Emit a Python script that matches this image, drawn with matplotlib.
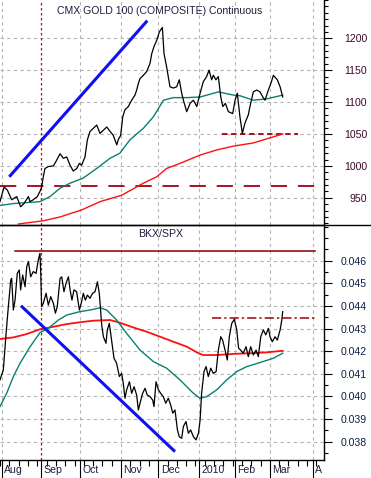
import numpy as np
import matplotlib
matplotlib.use("Agg")
import matplotlib.pyplot as plt
from matplotlib.ticker import MultipleLocator, FixedLocator, FuncFormatter
from matplotlib.lines import Line2D

plt.rcParams['font.family'] = ['Liberation Sans', 'DejaVu Sans']

# ---------------- data (x = trading-day index from 3 Aug 2009) ----------------
month_starts = [0, 21, 42, 64, 84, 106, 125, 144, 167]
month_labels = ["Aug", "Sep", "Oct", "Nov", "Dec", "2010", "Feb", "Mar", "A"]

gold_x = [-1.1, 1.1, 2.9, 5.2, 7.9, 10.0, 11.8, 14.2, 15.0, 16.8, 19.0, 20.4, 21.3, 22.2,
          23.1, 24.9, 27.6, 29.0, 31.2, 33.0, 34.8, 36.6, 38.3, 40.2, 41.6, 42.8, 44.6,
          45.9, 47.3, 49.1, 50.9, 52.7, 54.5, 56.3, 58.1, 59.8, 61.7, 62.5, 63.8, 64.9,
          66.1, 67.9, 69.7, 71.5, 72.4, 73.3, 74.2, 76.0, 77.8, 79.6, 80.5, 81.7, 83.2,
          84.6, 86.2, 87.1, 88.5, 90.3, 92.1, 93.9, 95.3, 96.6, 97.5, 99.3, 101.1, 102.9,
          104.7, 106.5, 108.2, 110.0, 111.3, 112.7, 113.6, 115.0, 116.3, 117.6, 118.7,
          120.1, 121.7, 124.0, 125.3, 126.5, 127.9, 129.2, 130.6, 132.4, 133.3, 135.1,
          136.9, 138.7, 140.2, 141.4, 143.2, 144.5, 145.9, 148.0, 149.5, 150.9]
gold = [944, 967, 962, 947, 952, 936, 941, 952, 944, 947, 952, 960, 967, 983,
        996, 999, 1000, 1007, 1019, 1012, 1014, 1001, 992, 996, 1004, 1001, 1014,
        1041, 1054, 1059, 1064, 1051, 1056, 1061, 1054, 1048, 1033, 1041, 1048, 1077,
        1088, 1093, 1103, 1111, 1119, 1129, 1137, 1142, 1148, 1161, 1176, 1187, 1197,
        1210, 1217, 1176, 1155, 1124, 1122, 1124, 1135, 1114, 1103, 1085, 1098, 1103,
        1093, 1114, 1132, 1140, 1150, 1135, 1142, 1135, 1140, 1108, 1093,
        1098, 1085, 1082, 1103, 1114, 1077, 1051, 1067, 1080, 1093, 1116,
        1119, 1116, 1108, 1103, 1119, 1129, 1142, 1135, 1124, 1108]

gold_ma50_x = [-1.1, 6.1, 20.4, 25.8, 31.2, 36.6, 43.7, 50.9, 58.1, 63.4, 68.8, 76.0,
               81.4, 86.8, 92.1, 99.3, 106.5, 116.3, 124.4, 127.9, 135.1, 142.3, 150.9]
gold_ma50 = [938, 941, 944, 952, 965, 973, 981, 996, 1012, 1020, 1041, 1059,
             1077, 1103, 1107, 1107, 1108, 1116, 1111, 1110, 1103, 1105, 1111]

gold_ma200_x = [8.8, 22.2, 31.2, 42.8, 52.7, 64.3, 76.0, 83.2, 88.5, 95.7, 106.5,
                115.4, 124.4, 135.1, 150.9]
gold_ma200 = [909, 914, 920, 931, 944, 954, 973, 983, 996, 1004, 1017,
              1025, 1031, 1036, 1050]

bkx_x = [-1.1, 0.7, 2.2, 3.4, 4.7, 5.2, 6.1, 7.0, 8.2, 9.3, 10.0, 11.1, 12.4, 13.3, 14.2,
         15.4, 16.8, 18.3, 19.5, 20.4, 20.8, 21.3, 22.2, 23.7, 24.9, 26.2, 27.6, 28.7,
         29.7, 31.2, 32.1, 33.3, 34.4, 35.7, 36.6, 37.6, 38.7, 40.1, 41.6, 42.8, 43.7,
         44.8, 45.9, 47.3, 48.7, 50.0, 51.3, 52.3, 53.6, 54.5, 55.9, 56.6, 57.7, 58.9,
         60.2, 61.6, 63.1, 64.3, 65.2, 66.1, 67.0, 68.5, 69.7, 71.0, 72.4, 73.3, 74.2,
         75.6, 76.9, 78.1, 79.6, 81.0, 81.7, 82.8, 84.1, 85.3, 86.7, 88.0, 89.4, 90.7,
         91.8, 93.0, 94.3, 95.3, 96.6, 97.5, 98.9, 100.2, 101.4, 102.9, 104.3, 105.6,
         106.5, 107.3, 108.6, 109.7, 110.9, 112.2, 113.6, 115.1, 116.3, 117.6, 118.6,
         119.9, 121.1, 122.2, 123.5, 124.9, 126.2, 127.2, 128.3, 129.7, 131.2, 132.4,
         133.7, 135.1, 136.6, 137.8, 139.1, 140.5, 141.8, 143.2, 144.1, 145.3, 146.8,
         148.0, 149.5, 150.4, 150.9]
bkx = [0.04073, 0.04117, 0.04279, 0.04397, 0.04515, 0.04522, 0.04382, 0.04426, 0.04544,
       0.04559, 0.04471, 0.04537, 0.04485, 0.04574, 0.04596, 0.04529, 0.04552, 0.04544,
       0.04603, 0.04633, 0.04552, 0.04397, 0.04412, 0.04456, 0.04404, 0.04441, 0.04412,
       0.04368, 0.04397, 0.04522, 0.04529, 0.04463, 0.04500, 0.04529, 0.04471, 0.04426,
       0.04471, 0.04463, 0.04382, 0.04419, 0.04456, 0.04426, 0.04448, 0.04434, 0.04456,
       0.04463, 0.04507, 0.04456, 0.04316, 0.04264, 0.04235, 0.04294, 0.04323, 0.04249,
       0.04169, 0.04147, 0.04088, 0.04102, 0.04058, 0.03992, 0.04029, 0.04065, 0.04014,
       0.04043, 0.04006, 0.03940, 0.03970, 0.04014, 0.04036, 0.04006, 0.03999, 0.03984,
       0.03955, 0.04065, 0.04029, 0.04014, 0.03999, 0.03970, 0.03992, 0.03962, 0.03926,
       0.03940, 0.03852, 0.03822, 0.03815, 0.03867, 0.03889, 0.03837, 0.03852, 0.03822,
       0.03808, 0.03837, 0.03896, 0.04014, 0.04110, 0.04132, 0.04088, 0.04125, 0.04102,
       0.04110, 0.04205, 0.04264, 0.04249, 0.04205, 0.04161, 0.04264, 0.04323, 0.04341,
       0.04294, 0.04213, 0.04205, 0.04191, 0.04220, 0.04176, 0.04220, 0.04183, 0.04205,
       0.04176, 0.04264, 0.04294, 0.04272, 0.04301, 0.04264, 0.04242, 0.04264, 0.04249,
       0.04294, 0.04338, 0.04375]

bkx_ma50_x = [-1.1, 2.5, 6.1, 9.7, 15.1, 20.4, 24.9, 30.3, 34.8, 41.9, 47.3, 52.7, 56.3,
              61.6, 67.0, 74.2, 81.4, 88.5, 95.7, 102.9, 106.5, 110.0, 115.4, 120.8,
              126.2, 131.6, 138.7, 145.9, 150.9]
bkx_ma50 = [0.03955, 0.04014, 0.04088, 0.04147, 0.04220, 0.04282, 0.04301, 0.04338,
            0.04360, 0.04375, 0.04382, 0.04392, 0.04382, 0.04338, 0.04279, 0.04205,
            0.04154, 0.04125, 0.04073, 0.04014, 0.03992, 0.03999, 0.04029, 0.04073,
            0.04110, 0.04132, 0.04150, 0.04169, 0.04191]

bkx_ma200_x = [-1.1, 6.1, 13.3, 20.4, 27.6, 34.8, 41.9, 49.1, 58.1, 63.4, 70.6, 77.8,
               85.0, 92.1, 99.3, 105.6, 108.2, 115.4, 124.4, 133.3, 142.3, 150.9]
bkx_ma200 = [0.04254, 0.04261, 0.04276, 0.04297, 0.04308, 0.04320, 0.04328, 0.04335,
             0.04338, 0.04326, 0.04305, 0.04286, 0.04264, 0.04242, 0.04220, 0.04191,
             0.04183, 0.04183, 0.04188, 0.04191, 0.04195, 0.04202]

# annotation lines (x0, x1, y0, y1)
gold_trend = ([3.9, 78.1], [983, 1227.6])
gold_support = ([-1.1, 173.1], [968, 968])
gold_level = ([118, 159], [1050, 1050])
bkx_trend = ([10.2, 93.0], [0.04401, 0.03756])
bkx_top = ([7, 168], [0.04642, 0.04642])
bkx_level = ([113, 169], [0.043455, 0.043455])
sep_marker = 21

# ---------------- figure ----------------
W, H = 371, 478
fig = plt.figure(figsize=(W / 100, H / 100), dpi=100)
fig.patch.set_facecolor("white")

FS = 7.6
xl = (-1.08, 173.1)
x_right = 324 / W
y_div = 1 - 225 / H
y_bot = 1 - 460 / H

ax1 = fig.add_axes([0, y_div, x_right, 1 - y_div])
ax2 = fig.add_axes([0, y_bot, x_right, y_div - y_bot])

grid_kw = dict(color="#b4b4b4", lw=0.8, ls=(0, (3, 3)))
for ax in (ax1, ax2):
    ax.set_xlim(*xl)
    for s in ("left", "top", "bottom"):
        ax.spines[s].set_visible(False)
    ax.spines["right"].set_color("black")
    ax.spines["right"].set_linewidth(1.0)
    ax.yaxis.tick_right()
    ax.tick_params(axis="y", which="major", direction="out", length=6, width=0.8,
                   pad=25, labelsize=FS)
    ax.tick_params(axis="y", which="minor", direction="out", length=3, width=0.8)
    for m in month_starts:
        if m != sep_marker:
            ax.axvline(m, zorder=0, **grid_kw)
    ax.axvline(sep_marker, color="#e00000", lw=0.9, ls=(0, (2, 2)), zorder=1)

# top panel
ax1.set_ylim(907.4, 1260)
ax1.yaxis.set_major_locator(FixedLocator([950, 1000, 1050, 1100, 1150, 1200]))
ax1.yaxis.set_minor_locator(MultipleLocator(10))
ax1.tick_params(axis="y", labelcolor="#3a0828")
for v in [950, 1000, 1050, 1100, 1150, 1200]:
    ax1.axhline(v, zorder=0, **grid_kw)
ax1.set_xticks([])
ax1.plot(gold_ma200_x, gold_ma200, color="#ff1010", lw=1.0, zorder=3)
ax1.plot(gold_ma50_x, gold_ma50, color="#0a8070", lw=1.0, zorder=3)
ax1.plot(gold_x, gold, color="black", lw=0.9, zorder=4)
ax1.plot(*gold_trend, color="#1010f0", lw=2.2, zorder=5, solid_capstyle="butt")
ax1.plot(*gold_support, color="#a00010", lw=1.3, ls=(0, (9, 6)), zorder=2)
ax1.plot(*gold_level, color="#a00010", lw=1.3, ls=(0, (3, 2)), zorder=2)
ax1.text(0.494, 0.952, "CMX GOLD 100 (COMPOSITE) Continuous", transform=ax1.transAxes,
         ha="center", va="center", fontsize=FS, color="#1e1e3c")

# bottom panel
ax2.set_ylim(0.03719, 0.04758)
ticks2 = [0.038, 0.039, 0.040, 0.041, 0.042, 0.043, 0.044, 0.045, 0.046]
ax2.yaxis.set_major_locator(FixedLocator(ticks2))
ax2.yaxis.set_minor_locator(MultipleLocator(0.0005))
ax2.yaxis.set_major_formatter(FuncFormatter(lambda v, p: f"{v:.3f}"))
ax2.tick_params(axis="y", labelcolor="#0a1e44")
for v in ticks2:
    ax2.axhline(v, zorder=0, **grid_kw)
for s in ("bottom", "top"):
    ax2.spines[s].set_visible(True)
    ax2.spines[s].set_color("black")
    ax2.spines[s].set_linewidth(1.0)

ax2.plot(bkx_ma200_x, bkx_ma200, color="#ff1010", lw=1.3, zorder=3)
ax2.plot(bkx_ma50_x, bkx_ma50, color="#0a8070", lw=1.0, zorder=3)
ax2.plot(bkx_x, bkx, color="black", lw=0.9, zorder=4)
ax2.plot(*bkx_trend, color="#1010f0", lw=2.2, zorder=5, solid_capstyle="butt")
ax2.plot(*bkx_top, color="#800000", lw=1.1, zorder=2)
ax2.plot(*bkx_level, color="#a00010", lw=1.1, ls=(0, (6, 2, 1.5, 2)), zorder=2)
ax2.text(0.497, 0.962, "BKX/SPX", transform=ax2.transAxes, ha="center", va="center",
         fontsize=FS, color="#1e1e3c")

# right-aligned value labels
for ax in (ax1, ax2):
    for lab in ax.yaxis.get_majorticklabels():
        lab.set_horizontalalignment("right")

# x axis: month ticks and labels
ax2.xaxis.set_major_locator(FixedLocator(month_starts))
ax2.xaxis.set_minor_locator(FixedLocator(np.arange(-1, 173, 5)))
ax2.tick_params(axis="x", which="major", direction="out", length=13, width=0.8,
                labelbottom=False)
ax2.tick_params(axis="x", which="minor", direction="out", length=4, width=0.8)
trans = matplotlib.transforms.blended_transform_factory(ax2.transData, fig.transFigure)
for m, lab in zip(month_starts, month_labels):
    ax2.text(m + 1.3, 1 - 470 / H, lab, transform=trans, ha="left", va="center",
             fontsize=FS, color="#1e1e3c", clip_on=False)

# divider line across full width
fig.add_artist(Line2D([0, 1], [y_div, y_div], transform=fig.transFigure,
                      color="black", lw=1.0))

fig.savefig("out.png", dpi=100, facecolor="white")
